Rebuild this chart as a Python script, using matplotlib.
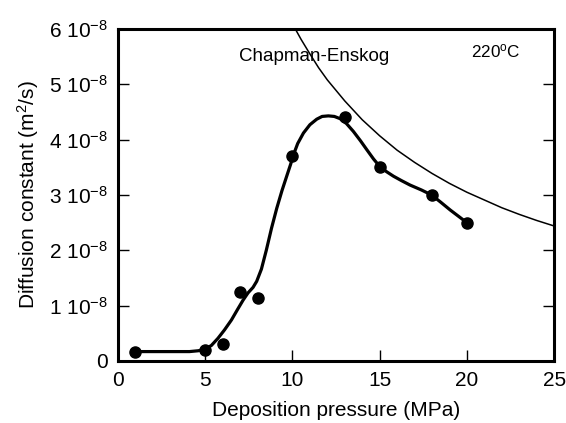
import matplotlib
matplotlib.use("Agg")
import matplotlib.pyplot as plt

plt.rcParams['font.family'] = ['Liberation Sans', 'DejaVu Sans']
plt.rcParams['mathtext.fontset'] = 'custom'
plt.rcParams['mathtext.rm'] = 'Liberation Sans'
plt.rcParams['mathtext.default'] = 'regular'

# measured points
pressure = [1, 5, 6, 7, 8, 10, 13, 15, 18, 20]
diffusion = [0.17e-8, 0.19e-8, 0.31e-8, 1.24e-8, 1.14e-8, 3.70e-8, 4.41e-8, 3.50e-8, 3.00e-8, 2.50e-8]

# hand-drawn fit through the points
fit_x = [1, 2, 3, 4.1, 4.6, 4.97, 5.35, 5.73, 6.1, 6.5, 6.85, 7.17, 7.45, 7.74, 7.95,
         8.22, 8.5, 8.8, 9.1, 9.4, 9.67, 9.9, 10.05, 10.3, 10.63, 11.0, 11.39, 11.7,
         12.06, 12.4, 12.73, 13.1, 13.49, 13.9, 14.26, 14.65, 15.02, 15.4, 15.79,
         16.25, 16.74, 17.4, 17.98, 18.5, 19.04, 19.5, 20.0]
fit_y = [0.17e-8, 0.17e-8, 0.17e-8, 0.17e-8, 0.185e-8, 0.21e-8, 0.28e-8, 0.41e-8,
         0.56e-8, 0.74e-8, 0.93e-8, 1.10e-8, 1.23e-8, 1.33e-8, 1.44e-8, 1.66e-8,
         2.00e-8, 2.40e-8, 2.76e-8, 3.08e-8, 3.34e-8, 3.56e-8, 3.72e-8, 3.93e-8,
         4.12e-8, 4.27e-8, 4.37e-8, 4.42e-8, 4.43e-8, 4.42e-8, 4.38e-8, 4.29e-8,
         4.15e-8, 3.98e-8, 3.82e-8, 3.65e-8, 3.51e-8, 3.42e-8, 3.34e-8, 3.26e-8,
         3.18e-8, 3.09e-8, 3.00e-8, 2.87e-8, 2.73e-8, 2.62e-8, 2.50e-8]

# Chapman-Enskog prediction
ce_x = [10.2, 10.5, 11.0, 11.5, 12.0, 13.0, 14.0, 15.0, 16.0, 17.0, 18.0, 19.0, 20.0,
        21.0, 22.0, 23.0, 24.0, 25.0]
ce_y = [5.98e-8, 5.81e-8, 5.55e-8, 5.30e-8, 5.08e-8, 4.70e-8, 4.36e-8, 4.07e-8, 3.81e-8,
        3.59e-8, 3.39e-8, 3.21e-8, 3.05e-8, 2.91e-8, 2.77e-8, 2.65e-8, 2.54e-8, 2.44e-8]

yticks = [0, 1e-8, 2e-8, 3e-8, 4e-8, 5e-8, 6e-8]
ytick_labels = ['0'] + ['%d 10$^{-8}$' % i for i in range(1, 7)]
xticks = [0, 5, 10, 15, 20, 25]

fig = plt.figure(figsize=(5.66, 4.23), dpi=100)
ax = fig.add_axes([0.2085, 0.1466, 0.7705, 0.7848])

ax.plot(ce_x, ce_y, color='black', lw=1.1)
ax.plot(fit_x, fit_y, color='black', lw=2.3, solid_joinstyle='round')
ax.plot(pressure, diffusion, 'o', color='black', ms=8)

ax.set_xlim(0, 25)
ax.set_ylim(0, 6e-8)
ax.set_xticks(xticks)
ax.set_yticks(yticks)
ax.set_yticklabels(ytick_labels)
ax.tick_params(axis='both', direction='in', labelsize=15, width=1, length=8, pad=7)
ax.tick_params(axis='y', right=True)
for s in ax.spines.values():
    s.set_linewidth(2.2)

ax.set_xlabel('Deposition pressure (MPa)', fontsize=15, labelpad=8)
ax.set_ylabel('Diffusion constant (m$^2$/s)', fontsize=15, labelpad=6)

ax.text(11.25, 5.51e-8, 'Chapman-Enskog', fontsize=13.5, ha='center', va='center')
ax.text(21.67, 5.6e-8, '220$^o$C', fontsize=12.3, ha='center', va='center')

fig.savefig('out.png', dpi=100)
